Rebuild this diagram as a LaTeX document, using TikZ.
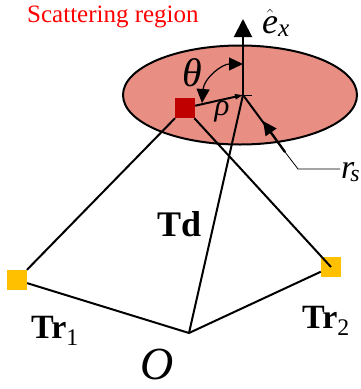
\documentclass[tikz,border=0pt]{standalone}
\usepackage{amsmath}
\usepackage{fontspec}
\setmainfont{Liberation Serif}
\usetikzlibrary{arrows.meta,shapes.geometric}
\definecolor{disc}{HTML}{E98E83}
\definecolor{darkred}{HTML}{C00000}
\definecolor{amber}{HTML}{FFC000}

\begin{document}
\begin{tikzpicture}[
    x=1pt, y=-1pt,
    port/.style={rectangle, minimum size=20pt, inner sep=0pt},
    link/.style={line width=2pt},
    txt/.style={inner sep=0pt, font=\fontsize{#1}{#1}\selectfont},
    bighead/.style={-{Triangle[length=18pt,width=18pt]}},
    midhead/.style={-{Triangle[length=14pt,width=13pt]}}
]
\useasboundingbox (0,0) rectangle (360,389);

% scattering disc
\node[ellipse, draw, line width=2pt, fill=disc, minimum width=234pt, minimum height=99pt, inner sep=0pt] (disc) at (240,95) {};
\coordinate (center) at (243,95);
\coordinate (tick) at (252,95);
\coordinate (tip) at (243,19);
\coordinate (bend) at (298,169);
\coordinate (rsmid) at (263,121);
\coordinate (rsthick) at (285,152);
\coordinate (thetaend) at (243,64);
\coordinate (thetastart) at (202,103);
\coordinate (rsend) at (340,169);
\coordinate (origin) at (189,333);

\node[port, fill=amber] (tr1) at (17,280) {};
\node[port, fill=amber] (tr2) at (331,267) {};
\node[port, fill=darkred] (src) at (185,108) {};

\draw[link] (src) -- (tr1);
\draw[link] (src) -- (tr2.center);
\draw[link] (center) -- (origin);
\draw[link] (origin) -- (tr1);
\draw[link] (origin) -- (tr2);

\draw[link, bighead] (center) -- (tip);
\draw[line width=1pt] (center) -- (tick);
\draw[link, -{Triangle[length=8pt,width=5pt]}] (src) -- (center);
\draw[line width=1.2pt, {Triangle[length=14pt,width=13pt]}-{Triangle[length=14pt,width=13pt]}] (thetastart) .. controls (204,78) and (222,64) .. (thetaend);
\draw[link] (center) -- (rsthick);
\draw[link, midhead] (rsthick) -- (rsmid);
\draw[line width=0.8pt] (rsthick) -- (bend) -- (rsend);

\node[txt=25, text=red, anchor=west] (title) at (27,17) {Scattering region};
\node[txt=40] (theta) at (192,73) {\textit{θ}};
\node[txt=31] (rho) at (222,112) {\textit{ρ}};
\node[txt=36, anchor=base west] (ex) at (262,33) {$\hat{\vphantom{t}\textit{e}}_{\textit{x}}$};
\node[txt=34, anchor=west] (rs) at (341,172) {$\textit{r}_{\!\textit{s}}$};
\node[txt=36, anchor=base west] (td) at (157,236) {\textbf{Td}};
\node[txt=34, anchor=base west] (trone) at (31,338) {\textbf{Tr}$_{\text{1}}$};
\node[txt=34, anchor=base west] (trtwo) at (302,328) {\textbf{Tr}$_{\text{2}}$};
\node[txt=46] (o) at (157,364) {\textit{O}};

\end{tikzpicture}
\end{document}
